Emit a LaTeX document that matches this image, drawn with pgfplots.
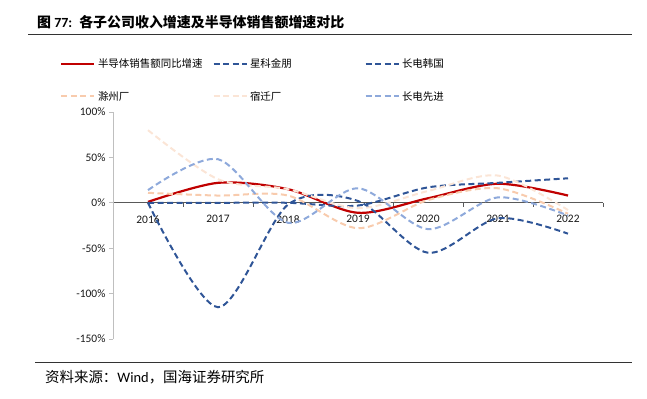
\documentclass[border=0pt]{standalone}
\usepackage{pgfplots}
\pgfplotsset{compat=1.18}
\usepackage{fontspec}
\setmainfont{Carlito}
\newfontfamily\cjk{Noto Sans CJK SC}
\definecolor{cred}{HTML}{C00000}
\definecolor{cdark}{HTML}{2F5597}
\definecolor{clight}{HTML}{8EA9DB}
\definecolor{corange}{HTML}{F8CBAD}
\definecolor{cpale}{HTML}{FBE5D6}
\begin{document}
\begin{tikzpicture}
\useasboundingbox (0bp,0bp) rectangle (647bp,-399bp);
\node[anchor=west, inner sep=0pt, font=\fontsize{14}{16}\selectfont] at (37bp,-22bp) {{\cjk\bfseries 图} \textbf{77:}\hspace{7bp}{\cjk\bfseries 各子公司收入增速及半导体销售额增速对比}};
\draw[line width=0.8bp, black!80] (28bp,-34bp) -- (632bp,-34bp);
\draw[line width=0.8bp, black!80] (35bp,-362bp) -- (632bp,-362bp);
\node[anchor=west, inner sep=0pt, font=\fontsize{14.5}{16}\selectfont] at (45bp,-377bp) {{\cjk 资料来源：}Wind{\cjk ，国海证券研究所}};
\begin{axis}[
  at={(113bp,-339bp)}, anchor=south west,
  width=490bp, height=227bp, scale only axis,
  xmin=2015.5, xmax=2022.5, ymin=-150, ymax=100,
  axis x line=middle, axis y line=left,
  x axis line style={-, draw=black!65, line width=1.2bp},
  y axis line style={-, draw=black!25, line width=1bp},
  xtick={2016,...,2022},
  xticklabels={2016,2017,2018,2019,2020,2021,2022},
  minor xtick={2016.5,2017.5,2018.5,2019.5,2020.5,2021.5,2022.5},
  major x tick style={draw=none},
  minor x tick style={draw=black!65, line width=0.8bp},
  minor tick length=4bp,
  ytick={-150,-100,-50,0,50,100},
  yticklabel={\pgfmathprintnumber{\tick}\%},
  major y tick style={draw=black!25, line width=0.8bp},
  major tick length=4bp,
  tick align=outside,
  /pgf/number format/assume math mode=true,
  ticklabel style={font=\fontsize{11.5}{13}\selectfont, text=black!90},
  xticklabel style={yshift=-5bp},
  legend style={at={(-0.114,1.255)}, anchor=north west, draw=none, fill=none,
    font=\fontsize{10.5}{12}\selectfont\cjk,
    nodes={text width=112bp, align=left, inner sep=2.5bp},
    row sep=17bp, legend columns=3},
  legend cell align=left,
  legend image code/.code={\draw[#1] (0bp,0bp) -- (33bp,0bp);},
  every axis plot/.append style={smooth, tension=0.5, no markers},
]
\addplot[cred, line width=2.2bp] coordinates {(2016,1) (2017,22) (2018,15) (2019,-11) (2020,5) (2021,21) (2022,8)};
\addlegendentry{半导体销售额同比增速}
\addplot[cdark, line width=2bp, dash pattern=on 6bp off 3.5bp] coordinates {(2016,0) (2017,-115) (2018,-2) (2019,2) (2020,-55) (2021,-17) (2022,-34)};
\addlegendentry{星科金朋}
\addplot[cdark, line width=2bp, dash pattern=on 6bp off 3.5bp] coordinates {(2016,0) (2017,0) (2018,0) (2019,-3) (2020,17) (2021,22) (2022,27)};
\addlegendentry{长电韩国}
\addplot[corange, line width=2bp, dash pattern=on 6bp off 3.5bp] coordinates {(2016,11) (2017,8) (2018,8) (2019,-28) (2020,3) (2021,16) (2022,-12)};
\addlegendentry{滁州厂}
\addplot[cpale, line width=2bp, dash pattern=on 6bp off 3.5bp] coordinates {(2016,80) (2017,26) (2018,15) (2019,-6) (2020,13) (2021,30) (2022,-8)};
\addlegendentry{宿迁厂}
\addplot[clight, line width=2bp, dash pattern=on 6bp off 3.5bp] coordinates {(2016,14) (2017,48) (2018,-22) (2019,16) (2020,-29) (2021,6) (2022,-14)};
\addlegendentry{长电先进}
\end{axis}
\end{tikzpicture}
\end{document}
